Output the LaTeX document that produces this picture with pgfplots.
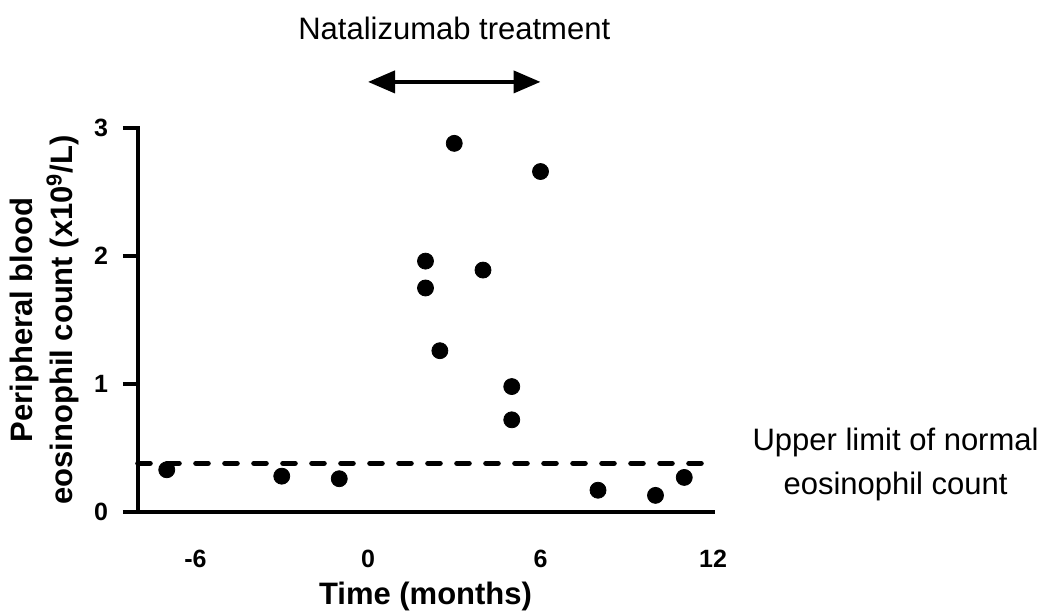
\documentclass[border=0pt]{standalone}
\usepackage{fontspec}
\setmainfont{Liberation Sans}
\usepackage{pgfplots}
\pgfplotsset{compat=1.18}
\usetikzlibrary{arrows.meta}

\newcommand{\tickfont}{\fontsize{12.5}{14}\selectfont\bfseries}
\newcommand{\labfont}{\fontsize{15.5}{20}\selectfont\bfseries}
\newcommand{\notefont}{\fontsize{15.5}{22}\selectfont}

\begin{document}
\begin{tikzpicture}
  \begin{axis}[
      name=ax,
      scale only axis,
      width=287.5pt, height=192pt,
      xmin=-8, xmax=12, ymin=0, ymax=3,
      axis x line*=bottom, axis y line*=left,
      axis line style={line width=2pt, line cap=rect},
      xtick={-6,0,6,12}, ytick={0,1,2,3},
      xtick style={draw=none},
      ytick style={line width=2pt, black},
      tick align=outside,
      major tick length=7.5pt,
      /pgf/number format/assume math mode=true,
      xticklabel style={font=\tickfont, yshift=-8pt},
      yticklabel style={font=\tickfont, xshift=-4pt},
      clip=false,
    ]

    % upper limit of normal
    \addplot[black, line width=2.8pt, line cap=round,
      dash pattern=on 6pt off 8.5pt] coordinates {
      (-8, 0.38)
      (11.6, 0.38)
    };

    \addplot[only marks, mark=*, mark size=4pt, black] coordinates {
      (-7, 0.33)
      (-3, 0.28)
      (-1, 0.26)
      (2, 1.96)
      (2, 1.75)
      (2.5, 1.26)
      (3, 2.88)
      (4, 1.89)
      (5, 0.98)
      (5, 0.72)
      (6, 2.66)
      (8, 0.17)
      (10, 0.13)
      (11, 0.27)
    };

    \draw[line width=2pt,
      {Triangle[length=13.5pt,width=11pt]}-{Triangle[length=13.5pt,width=11pt]}]
      (axis cs:0,3.36) -- (axis cs:6,3.36);
    \node[font=\notefont] at (axis cs:3,3.78) {Natalizumab treatment};
    \node[font=\notefont, align=center] at (axis cs:18.35,0.37)
      {Upper limit of normal\\eosinophil count};

    \node[font=\labfont, anchor=base] at (axis description cs:0.5,-0.242)
      {Time (months)};
    \node[font=\labfont, rotate=90, align=center]
      at (axis description cs:-0.1635,0.5)
      {Peripheral blood\\eosinophil count (x10\textsuperscript{9}/L)};
  \end{axis}
  \pgfresetboundingbox
  \path[use as bounding box] ([shift={(-69pt,-51pt)}]ax.south west)
    rectangle ([shift={(454.5pt,256pt)}]ax.south west);
\end{tikzpicture}
\end{document}
